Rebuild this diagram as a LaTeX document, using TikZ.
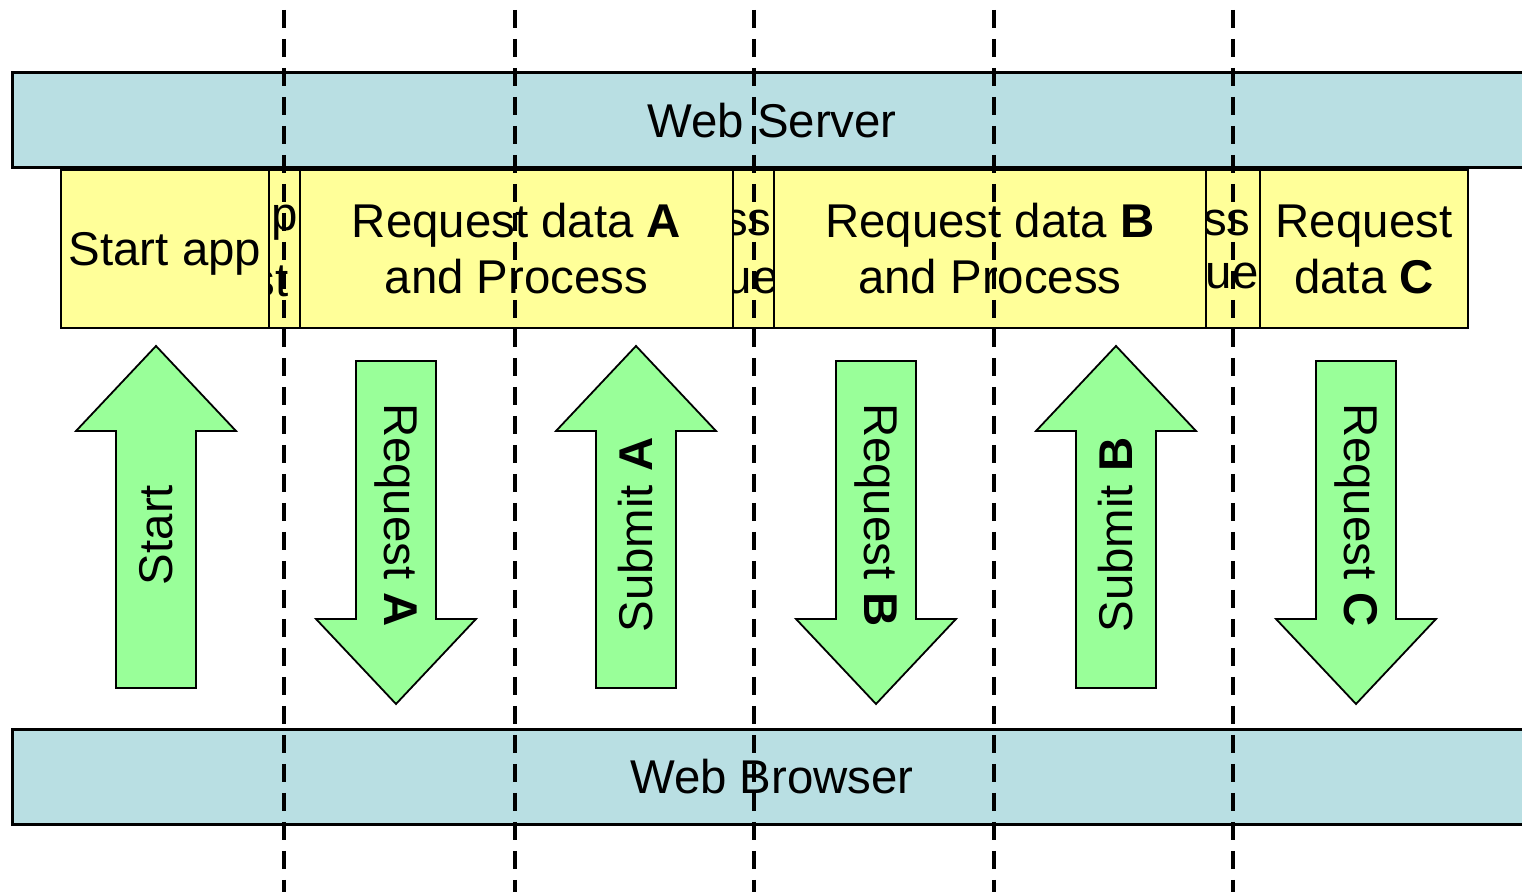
\documentclass[tikz,border=0pt]{standalone}
\usepackage{fontspec}
\setmainfont{Liberation Sans}
\usetikzlibrary{positioning}
\definecolor{bandblue}{RGB}{185,223,227}
\definecolor{stageyellow}{RGB}{255,255,153}
\definecolor{flowgreen}{RGB}{153,255,153}
\tikzset{
  lbl/.style={font=\fontsize{23.7}{29}\selectfont,align=center,inner sep=0pt},
  band/.style={lbl,draw=black,line width=1.5pt,fill=bandblue,minimum height=47.5pt},
  stage/.style={lbl,draw=black,line width=1.2pt,fill=stageyellow,minimum height=79pt},
  cut/.style={lbl,anchor=east},
  flow/.style={draw=black,line width=0.9pt,fill=flowgreen},
  timeline/.style={line width=1.8pt,dash pattern=on 9pt off 5.5pt}
}
\begin{document}
\begin{tikzpicture}[line join=miter,x=0.5pt,y=0.5pt]
\clip (0,0) rectangle (1522,892);
% server and browser
\node[band,minimum width=760pt] (server) at (772,771.5) {Web Server};
\node[band,minimum width=760pt] (browser) at (772,115) {Web Browser};
% main steps
\node[stage,minimum width=104pt] (startapp) at (165,643) {\raisebox{-8.5pt}[0pt][0pt]{Start app}};
\node[stage,minimum width=216.5pt] (reqA) at (516.5,643) {\raisebox{-1pt}{Request data \textbf{A}}\\and Process};
\node[stage,minimum width=216pt] (reqB) at (990,643) {\raisebox{-1pt}{Request data \textbf{B}}\\and Process};
\node[stage,minimum width=104pt] (reqC) at (1364,643) {\raisebox{-1pt}{Request}\\data \textbf{C}};
% short steps between the requests
\node[stage,minimum width=15.5pt] (gap1) at (284.5,643) {};
\node[stage,minimum width=20.5pt] (gap2) at (753.5,643) {};
\node[stage,minimum width=27pt] (gap3) at (1233,643) {};
\begin{scope}
\clip (269,564) rectangle (300,722);
\node[cut] (gap1top) at (298,669) {p};
\node[cut] (gap1bot) at (289,611) {st};
\end{scope}
\begin{scope}
\clip (733,564) rectangle (774,722);
\node[cut] (gap2top) at (772,669) {ss};
\node[cut] (gap2bot) at (779,611) {ue};
\end{scope}
\begin{scope}
\clip (1206,564) rectangle (1260,722);
\node[cut] (gap3top) at (1251,669) {ss};
\node[cut] (gap3bot) at (1259,611) {que};
\end{scope}
% calls up to the server
\foreach \x/\n/\t in {156/start/Start,636/submitA/{Submit \textbf{A}},1116/submitB/{Submit \textbf{B}}}{
\draw[flow] ({\x-40},204) -- ({\x+40},204) -- ({\x+40},461) -- ({\x+80},461) -- (\x,546) -- ({\x-80},461) -- ({\x-40},461) -- cycle;
\node[lbl,rotate=90] (\n) at (\x,357) {\t};
}
% answers down to the browser
\foreach \x/\n/\t in {396/requestA/{Request \textbf{A}},876/requestB/{Request \textbf{B}},1356/requestC/{Request \textbf{C}}}{
\draw[flow] ({\x-40},531) -- ({\x+40},531) -- ({\x+40},273) -- ({\x+80},273) -- (\x,188) -- ({\x-80},273) -- ({\x-40},273) -- cycle;
\node[lbl,rotate=-90] (\n) at (\x,377) {\t};
}
% time marks
\foreach \x in {284,515,754,994,1233}
\draw[timeline] (\x,882) -- (\x,0);
\end{tikzpicture}
\end{document}
